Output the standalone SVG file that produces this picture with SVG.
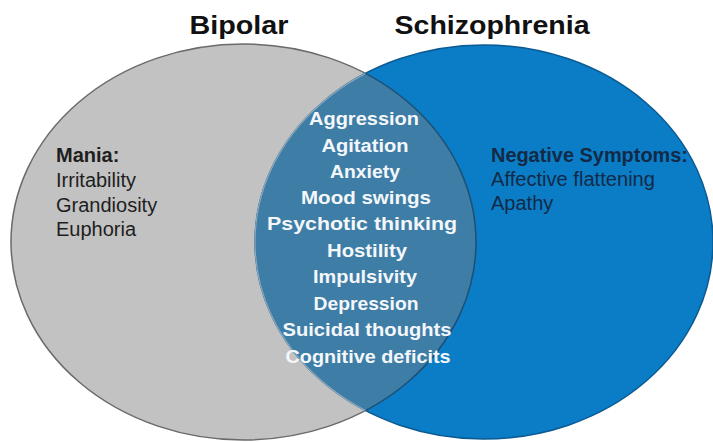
<svg xmlns="http://www.w3.org/2000/svg" width="713" height="442" viewBox="0 0 713 442">
  <style>
    .title { font-family: "Liberation Sans", Arial, sans-serif; font-weight: bold; font-size: 26px; fill: #111; text-anchor: middle; }
    .shared { font-family: "Liberation Sans", Arial, sans-serif; font-weight: bold; font-size: 18px; fill: #f4f7fa; text-anchor: middle; }
    .left { font-family: "Liberation Sans", Arial, sans-serif; font-size: 20px; fill: #1e1e1e; }
    .right { font-family: "Liberation Sans", Arial, sans-serif; font-size: 20px; fill: #132a47; }
    .head { font-weight: bold; }
  </style>
  <defs>
    <clipPath id="clip-bipolar">
      <ellipse cx="243.5" cy="242" rx="232.5" ry="198"/>
    </clipPath>
    <clipPath id="clip-schizo">
      <ellipse cx="484" cy="242" rx="229" ry="197"/>
    </clipPath>
  </defs>
  <rect width="713" height="442" fill="#ffffff"/>

  <!-- set titles -->
  <text class="title" x="239" y="34" textLength="99" lengthAdjust="spacingAndGlyphs">Bipolar</text>
  <text class="title" x="492" y="34" textLength="195" lengthAdjust="spacingAndGlyphs">Schizophrenia</text>

  <!-- Bipolar set -->
  <g id="bipolar">
    <ellipse cx="243.5" cy="242" rx="232.5" ry="198" fill="#c2c2c2" stroke="#6a6a6a" stroke-width="1.5"/>
  </g>

  <!-- Schizophrenia set -->
  <g id="schizophrenia">
    <ellipse cx="484" cy="242" rx="229" ry="197" fill="#0a7dc6" stroke="#0b5a92" stroke-width="1.5"/>
  </g>

  <!-- overlap of both sets -->
  <g id="overlap">
    <ellipse cx="484" cy="242" rx="229" ry="197" fill="#3e7da6" stroke="#8fa9bb" stroke-width="1.2" clip-path="url(#clip-bipolar)"/>
    <ellipse cx="243.5" cy="242" rx="232.5" ry="198" fill="none" stroke="#1d4f74" stroke-width="1.5" clip-path="url(#clip-schizo)"/>
  </g>

  <!-- Bipolar-only symptoms -->
  <g id="bipolar-labels">
    <text class="left head" x="56" y="162">Mania:</text>
    <text class="left" x="56" y="187">Irritability</text>
    <text class="left" x="56" y="211.5">Grandiosity</text>
    <text class="left" x="56" y="236">Euphoria</text>
  </g>

  <!-- Schizophrenia-only symptoms -->
  <g id="schizophrenia-labels">
    <text class="right head" x="491" y="162" textLength="197" lengthAdjust="spacingAndGlyphs">Negative Symptoms:</text>
    <text class="right" x="491" y="186" textLength="164" lengthAdjust="spacingAndGlyphs">Affective flattening</text>
    <text class="right" x="491" y="210">Apathy</text>
  </g>

  <!-- shared symptoms -->
  <g id="shared-labels">
    <text class="shared" x="364" y="125" textLength="110" lengthAdjust="spacingAndGlyphs">Aggression</text>
    <text class="shared" x="365" y="151.5" textLength="87" lengthAdjust="spacingAndGlyphs">Agitation</text>
    <text class="shared" x="365" y="177.5" textLength="70" lengthAdjust="spacingAndGlyphs">Anxiety</text>
    <text class="shared" x="366" y="204" textLength="130" lengthAdjust="spacingAndGlyphs">Mood swings</text>
    <text class="shared" x="362" y="230" textLength="190" lengthAdjust="spacingAndGlyphs">Psychotic thinking</text>
    <text class="shared" x="367" y="256.5" textLength="80" lengthAdjust="spacingAndGlyphs">Hostility</text>
    <text class="shared" x="365" y="283" textLength="104" lengthAdjust="spacingAndGlyphs">Impulsivity</text>
    <text class="shared" x="366" y="309.5" textLength="105" lengthAdjust="spacingAndGlyphs">Depression</text>
    <text class="shared" x="367" y="336" textLength="169" lengthAdjust="spacingAndGlyphs">Suicidal thoughts</text>
    <text class="shared" x="368" y="362.5" textLength="165" lengthAdjust="spacingAndGlyphs">Cognitive deficits</text>
  </g>
</svg>
